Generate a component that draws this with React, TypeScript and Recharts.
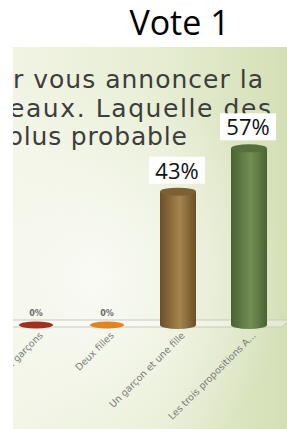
import React from 'react';
import { BarChart, Bar, XAxis, YAxis, LabelList } from 'recharts';

// Vote 1 — répartition des réponses
const categories = [
  'Deux garçons',
  'Deux filles',
  'Un garçon et une fille',
  'Les trois propositions A...',
];
const votes = [0, 0, 43, 57];

const questionLines = ['r vous annoncer la', 'eaux. Laquelle des', 'plus probable'];

const barColors = [
  { edge: '#8e2714', mid: '#b43a20', top: '#a3301a' },
  { edge: '#d5721a', mid: '#ef9030', top: '#e5831f' },
  { edge: '#6b4f27', mid: '#a5854f', top: '#7d6134' },
  { edge: '#4a6233', mid: '#728f54', top: '#566f3e' },
];

const data = categories.map((name, i) => ({ name, value: votes[i] }));

const Cylinder = (props: any) => {
  const { x, y, width, height, index } = props;
  const c = barColors[index];
  const cx = x + width / 2;
  const rx = width / 2;
  const ry = 4;
  if (!height || height <= 0) {
    return <ellipse cx={cx} cy={y} rx={rx - 1} ry={3.5} fill={c.top} />;
  }
  return (
    <g>
      <ellipse cx={cx} cy={y + height} rx={rx} ry={ry} fill={`url(#cyl-${index})`} />
      <rect x={x} y={y} width={width} height={height} fill={`url(#cyl-${index})`} />
      <ellipse cx={cx} cy={y} rx={rx} ry={ry} fill={c.top} />
    </g>
  );
};

const ValueLabel = (props: any) => {
  const { x, y, width, value } = props;
  const cx = x + width / 2;
  if (!value) {
    return (
      <text x={cx} y={y - 9} textAnchor="middle" fontSize={8} fontWeight="bold" fill="#6a6a6a"
        fontFamily="DejaVu Sans">
        0%
      </text>
    );
  }
  return (
    <g>
      <rect x={cx - 29} y={y - 35} width={56} height={27} fill="#ffffff" />
      <text x={cx - 1} y={y - 13} textAnchor="middle" fontSize={22} fill="#111"
        fontFamily="Open Sans">
        {value}%
      </text>
    </g>
  );
};

const SlantTick = (props: any) => {
  const { x, y, payload } = props;
  const ax = x + 8;
  const ay = y + 3;
  return (
    <text x={ax} y={ay} transform={`rotate(-45 ${ax} ${ay})`} textAnchor="end"
      fontSize={9.5} fill="#7a7a7a" fontFamily="DejaVu Sans">
      {payload.value}
    </text>
  );
};

export default function App() {
  return (
    <div style={{ position: 'absolute', left: 0, top: 0, width: 287, height: 429, background: '#fff', overflow: 'hidden' }}>
      <div style={{ position: 'absolute', left: 0, width: 287, top: -2, textAlign: 'center', paddingLeft: 72, boxSizing: 'border-box',
        fontFamily: 'Open Sans', fontSize: 34, color: '#000', lineHeight: '48px' }}>
        Vote 1
      </div>
      <div style={{
        position: 'absolute', left: 13, top: 47, width: 274, height: 382, overflow: 'hidden',
        background: 'radial-gradient(ellipse 70% 55% at 30% 60%, rgba(250,251,246,0.95) 0%, rgba(250,251,246,0) 100%), linear-gradient(to left, #d4dfb6 0%, #e6edd2 45%, #f1f4e4 100%)',
      }}>
        <svg width={274} height={382} style={{ position: 'absolute', left: 0, top: 0 }}>
          <text x={0} y={41} fontSize={25} fill="#3d3d3d" fontFamily="DejaVu Sans" textLength={250} lengthAdjust="spacing">
            {questionLines[0]}
          </text>
          <text x={-4} y={70} fontSize={25} fill="#3d3d3d" fontFamily="DejaVu Sans" textLength={262} lengthAdjust="spacing">
            {questionLines[1]}
          </text>
          <text x={-6} y={98} fontSize={25} fill="#3d3d3d" fontFamily="DejaVu Sans" textLength={180} lengthAdjust="spacing">
            {questionLines[2]}
          </text>
          <polygon points="-5,273 276,273 269,280 -12,280" fill="rgba(255,255,255,0.35)" stroke="#c9c9c4" strokeWidth={1} />
        </svg>
        <div style={{ position: 'absolute', left: -13, top: 0 }}>
          <BarChart width={287} height={382} data={data} margin={{ top: 92, right: 3, left: 0, bottom: 0 }}>
            <defs>
              {barColors.map((c, i) => (
                <linearGradient key={i} id={`cyl-${i}`} x1="0" y1="0" x2="1" y2="0">
                  <stop offset="0%" stopColor={c.edge} />
                  <stop offset="55%" stopColor={c.mid} />
                  <stop offset="100%" stopColor={c.edge} />
                </linearGradient>
              ))}
            </defs>
            <XAxis dataKey="name" interval={0} axisLine={false} tickLine={false} height={104} tick={<SlantTick />} />
            <YAxis hide domain={[0, 60]} />
            <Bar dataKey="value" barSize={36} shape={<Cylinder />} isAnimationActive={false}>
              <LabelList dataKey="value" content={<ValueLabel />} />
            </Bar>
          </BarChart>
        </div>
      </div>
    </div>
  );
}
